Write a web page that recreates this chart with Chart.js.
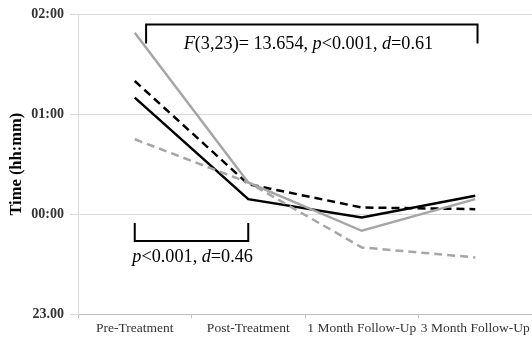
<!DOCTYPE html>
<html>
<head>
<meta charset="utf-8">
<script src="https://cdn.jsdelivr.net/npm/chart.js@4.4.1/dist/chart.umd.min.js"></script>
<style>
html,body{margin:0;padding:0;background:#fff;}
#wrap{width:532px;height:343px;position:relative;}
</style>
</head>
<body>
<div id="wrap"><canvas id="c" width="532" height="343"></canvas></div>
<script>
// Categories and series (minutes relative to 00:00)
const categories = ["Pre-Treatment", "Post-Treatment", "1 Month Follow-Up", "3 Month Follow-Up"];
const solidBlack = [70, 9, -2, 11];
const dashedBlack = [80, 18, 4, 3];
const solidGray = [109, 19, -10, 9];
const dashedGray = [45, 19, -20, -26];
const yTickValues = [-60, 0, 60, 120];
const yTickLabels = ["23.00", "00:00", "01:00", "02:00"];
const topNote = [["F", true], ["(3,23)= 13.654, ", false], ["p", true], ["<0.001, ", false], ["d", true], ["=0.61", false]];
const bottomNote = [["p", true], ["<0.001, ", false], ["d", true], ["=0.46", false]];

const serif = "'Liberation Serif', 'Times New Roman', serif";

function drawRich(ctx, parts, cx, cy, size) {
  let total = 0;
  const widths = parts.map(([t, it]) => {
    ctx.font = (it ? "italic " : "") + size + "px " + serif;
    const w = ctx.measureText(t).width; total += w; return w;
  });
  let x = cx - total / 2;
  ctx.textBaseline = "middle"; ctx.textAlign = "left"; ctx.fillStyle = "#000";
  parts.forEach(([t, it], i) => {
    ctx.font = (it ? "italic " : "") + size + "px " + serif;
    ctx.fillText(t, x, cy); x += widths[i];
  });
}

const notes = {
  id: "notes",
  afterDatasetsDraw(chart) {
    const ctx = chart.ctx, xs = chart.scales.x, ys = chart.scales.y;
    ctx.save();
    ctx.strokeStyle = "#000"; ctx.lineWidth = 2; ctx.lineCap = "butt";
    // top bracket
    const tx1 = xs.getPixelForValue(0.1), tx2 = xs.getPixelForValue(3.02);
    const ty1 = ys.getPixelForValue(114), ty2 = ys.getPixelForValue(102.5);
    ctx.beginPath(); ctx.moveTo(tx1, ty2); ctx.lineTo(tx1, ty1); ctx.lineTo(tx2, ty1); ctx.lineTo(tx2, ty2); ctx.stroke();
    drawRich(ctx, topNote, xs.getPixelForValue(1.53), ys.getPixelForValue(102), 18.2);
    // bottom bracket
    const bx1 = xs.getPixelForValue(0), bx2 = xs.getPixelForValue(1);
    const by1 = ys.getPixelForValue(-5.4), by2 = ys.getPixelForValue(-16.2);
    ctx.beginPath(); ctx.moveTo(bx1, by1); ctx.lineTo(bx1, by2); ctx.lineTo(bx2, by2); ctx.lineTo(bx2, by1); ctx.stroke();
    drawRich(ctx, bottomNote, xs.getPixelForValue(0.51), ys.getPixelForValue(-26), 18.2);
    ctx.restore();
  }
};

function ds(data, color, dashed) {
  return { data, borderColor: color, backgroundColor: color, borderWidth: 2.5,
    borderDash: dashed ? [8, 5] : [], pointRadius: 0, tension: 0, fill: false };
}

new Chart(document.getElementById("c"), {
  type: "line",
  data: {
    labels: categories,
    datasets: [
      ds(solidGray, "#a6a6a6", false),
      ds(dashedGray, "#a6a6a6", true),
      ds(dashedBlack, "#000000", true),
      ds(solidBlack, "#000000", false)
    ]
  },
  options: {
    responsive: false, animation: false, devicePixelRatio: 1,
    layout: { padding: { top: 14, right: 0, bottom: 0, left: 7 } },
    plugins: { legend: { display: false }, tooltip: { enabled: false } },
    scales: {
      x: {
        offset: true,
        grid: { display: true, offset: true, drawOnChartArea: false, tickLength: 4, color: "#bfbfbf" },
        border: { display: true, color: "#bfbfbf", width: 1 },
        ticks: { color: "#333", font: { family: serif, size: 13.5 }, padding: 2, maxRotation: 0, autoSkip: false },
        afterFit(s) { s.height = 29; }
      },
      y: {
        min: -60, max: 120,
        afterBuildTicks(s) { s.ticks = yTickValues.map(v => ({ value: v })); },
        grid: { color: "#d9d9d9", tickLength: 8, lineWidth: 1 },
        border: { display: true, color: "#d9d9d9" },
        ticks: {
          color: "#333", font: { family: serif, size: 14, weight: "bold" }, padding: 6,
          callback(v) { const i = yTickValues.indexOf(v); return i >= 0 ? yTickLabels[i] : ""; }
        },
        title: { display: true, text: "Time (hh:mm)", color: "#000", font: { family: serif, size: 16.5, weight: "bold" }, padding: { top: 0, bottom: 4 } },
        afterFit(s) { s.width = 71; }
      }
    }
  },
  plugins: [notes]
});
</script>
</body>
</html>
